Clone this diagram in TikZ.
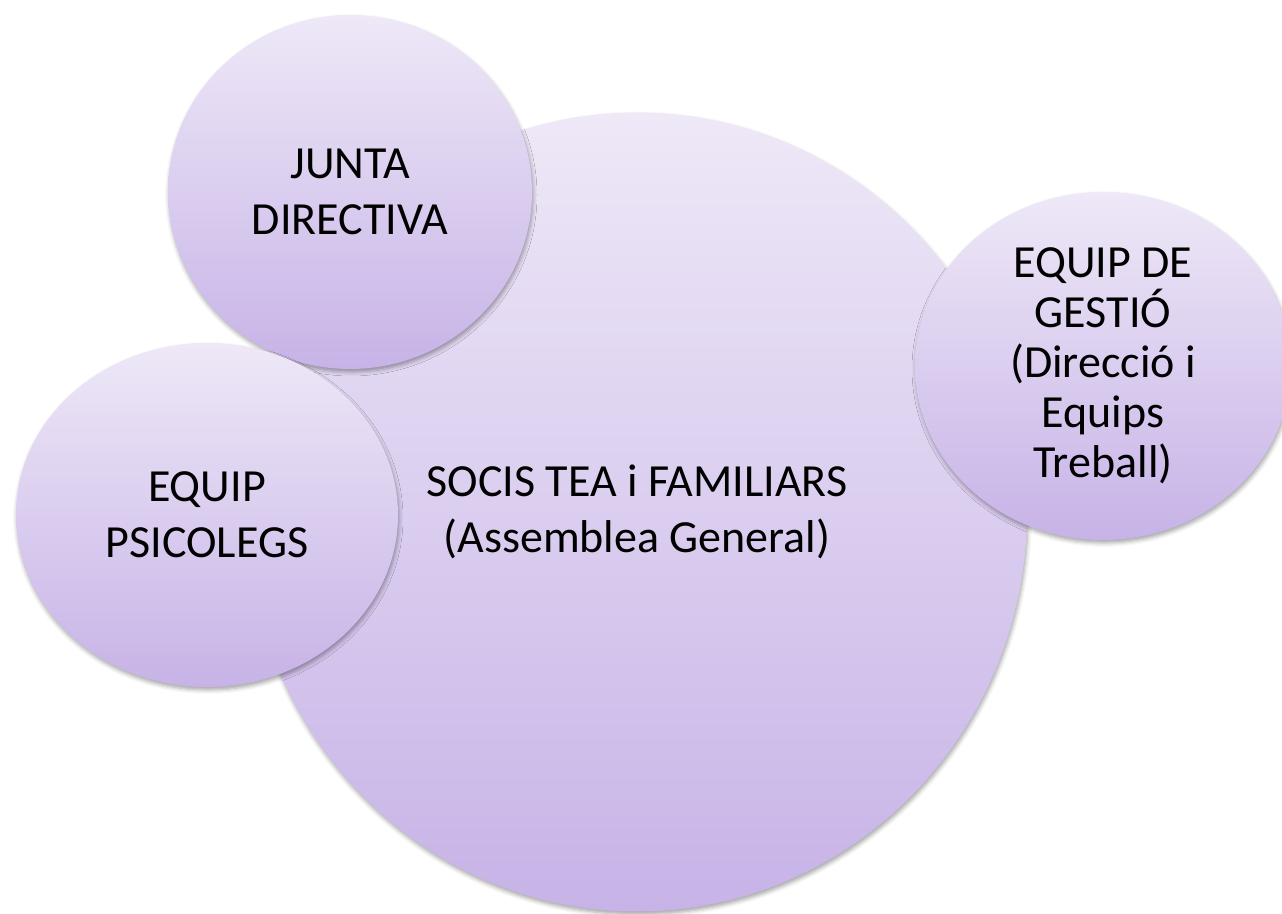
\documentclass[tikz,border=0pt]{standalone}
\usepackage{fontspec}
\setmainfont{Carlito}
\usetikzlibrary{shapes.geometric,shadows.blur}
\tikzset{
  bubble/.style={ellipse, inner sep=0pt, align=center,
    top color=lavtop, bottom color=lavbot, draw=none,
    font=\fontsize{46}{56}\selectfont, text=black,
    blur shadow={shadow xshift=1pt, shadow yshift=-3pt, shadow blur radius=4pt, shadow opacity=35}},
}
\definecolor{lavtop}{HTML}{EEE8F7}
\definecolor{lavbot}{HTML}{C7B3E7}
\begin{document}
\begin{tikzpicture}[x=1pt,y=1pt]
\useasboundingbox (0,0) rectangle (1282,913);
\clip (0,0) rectangle (1282,913);
\node[bubble, minimum width=780pt, minimum height=799pt] (big) at (637,401)
  {SOCIS TEA i FAMILIARS\\(Assemblea General)};
\node[bubble, minimum width=364pt, minimum height=354pt] (junta) at (350,721)
  {JUNTA\\DIRECTIVA};
\node[bubble, minimum width=382pt, minimum height=344pt] (psico) at (207,398)
  {EQUIP\\PSICOLEGS};
\node[bubble, minimum width=376pt, minimum height=348pt,
  font=\fontsize{46}{50}\selectfont] (gestio) at (1103,547)
  {EQUIP DE\\GESTIÓ\\(Direcció i\\Equips\\Treball)};
\end{tikzpicture}
\end{document}
